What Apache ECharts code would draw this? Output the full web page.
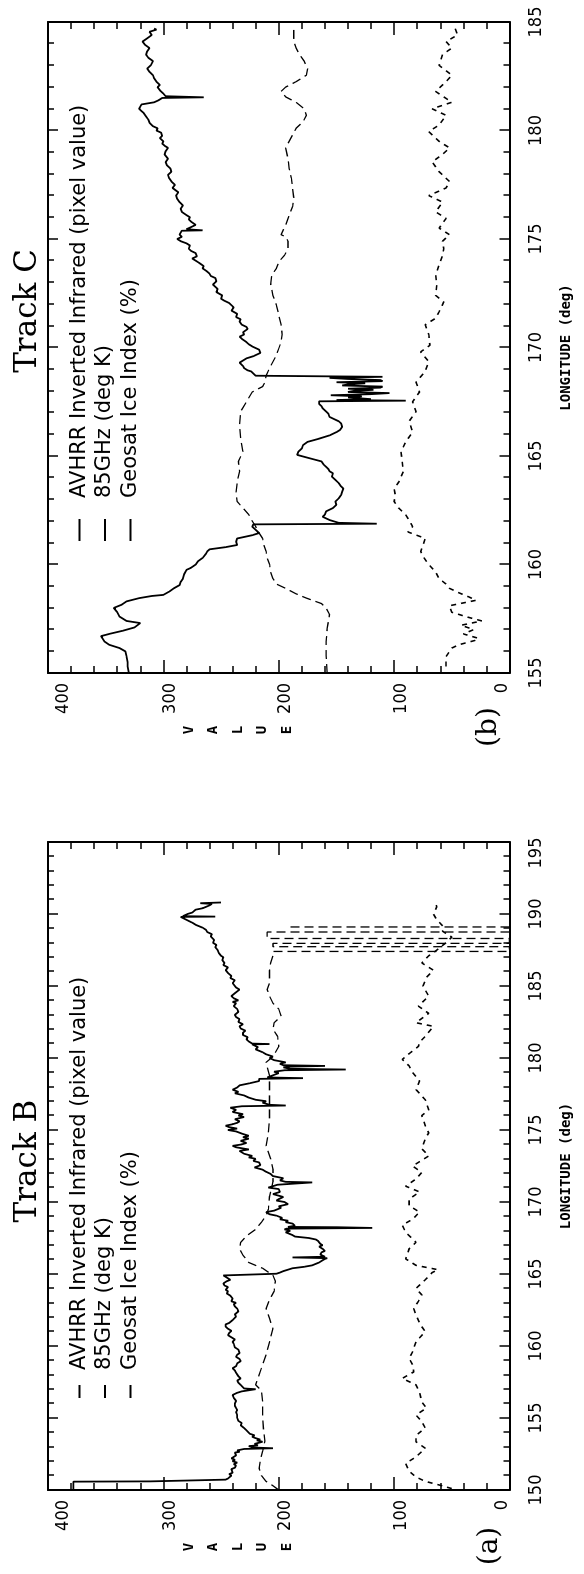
<!DOCTYPE html>
<html>
<head>
<meta charset="utf-8">
<script src="https://cdn.jsdelivr.net/npm/echarts@6/dist/echarts.min.js"></script>
<style>
  html, body { margin: 0; padding: 0; background: #fff; overflow: hidden; width: 584px; height: 1574px; }
  #rot { position: absolute; left: 0; top: 0; width: 1574px; height: 584px;
         transform-origin: 0 0; transform: translateY(1574px) rotate(-90deg); }
  #chart { width: 1574px; height: 584px; }
</style>
</head>
<body>
<div id="rot"><div id="chart"></div></div>
<script>
// ---------------- DATA ----------------
const SERIES_NAMES = ['AVHRR Inverted Infrared (pixel value)', '85GHz (deg K)', 'Geosat Ice Index (%)'];
const PANEL_TITLES = ['Track B', 'Track C'];
const PANEL_TAGS = ['(a)', '(b)'];
const VALUE_AXIS_TITLE = 'VALUE';
const LON_AXIS_TITLE = 'LONGITUDE (deg)';
const VALUE_RANGE = [0, 400];
const VALUE_TICKS = [0, 100, 200, 300, 400];
const TRACK_B_LON_RANGE = [150, 195];
const TRACK_C_LON_RANGE = [155, 185];
const LON_TICK_STEP = 5;

// Track B (panel a): [longitude, value]
const TRACK_B_AVHRR = [
 [150.0,378],[150.58,378],[150.6,311],[150.7,311],[150.72,246],[150.8,244],[150.9,243],[151.0,241],[151.1,243],
 [151.2,240],[151.3,239],[151.45,241],[151.55,238],[151.7,237],[151.8,239],[151.9,236],[152.0,240],[152.1,238],
 [152.2,241],[152.3,240],[152.4,237],[152.5,236],[152.6,238],[152.65,234],[152.75,236],[152.85,230],[152.9,205],
 [152.95,222],[153.05,226],[153.1,218],[153.2,221],[153.35,214],[153.45,219],[153.5,216],[153.6,220],[153.7,223],
 [153.8,221],[153.9,225],[154.0,226],[154.15,228],[154.3,230],[154.4,229],[154.5,233],[154.65,232],[154.8,235],
 [154.9,234],[155.0,236],[155.2,236],[155.4,237],[155.55,236],[155.7,237],[155.85,238],[156.0,238],[156.2,237],
 [156.4,239],[156.6,240],[156.75,236],[156.85,232],[156.95,232],[157.0,220],[157.05,230],[157.15,231],[157.3,233],
 [157.45,235],[157.6,236],[157.75,233],[157.9,235],[158.0,234],[158.15,237],[158.3,238],[158.45,240],[158.6,237],
 [158.8,236],[158.95,233],[159.1,234],[159.25,237],[159.4,236],[159.5,234],[159.6,233],[159.75,235],[159.9,238],
 [160.0,237],[160.15,239],[160.3,240],[160.45,238],[160.6,241],[160.75,244],[160.9,243],[161.05,241],[161.2,244],
 [161.35,246],[161.5,246],[161.6,243],[161.7,244],[161.8,240],[161.9,241],[162.05,237],[162.2,238],[162.4,235],
 [162.6,236],[162.75,238],[162.9,239],[163.0,237],[163.1,241],[163.3,240],[163.5,242],[163.65,245],[163.8,244],
 [163.9,246],[164.0,246],[164.1,244],[164.2,247],[164.35,248],[164.5,245],[164.6,242],[164.7,243],[164.8,246],
 [164.9,248],[165.0,247],[165.02,202],[165.1,199],[165.2,196],[165.3,192],[165.4,188],[165.5,178],[165.6,171],
 [165.7,168],[165.8,165],[165.95,162],[166.05,160],[166.1,158],[166.15,188],[166.2,160],[166.35,164],[166.5,163],
 [166.6,160],[166.75,162],[166.9,165],[167.0,162],[167.1,164],[167.2,163],[167.3,166],[167.4,168],[167.5,174],
 [167.55,180],[167.6,186],[167.7,188],[167.8,191],[167.9,194],[168.0,190],[168.1,195],[168.15,193],[168.2,119],
 [168.25,150],[168.27,192],[168.35,186],[168.5,188],[168.6,194],[168.7,192],[168.8,199],[168.9,197],[169.05,202],
 [169.15,208],[169.3,211],[169.4,204],[169.5,205],[169.6,198],[169.7,200],[169.85,192],[170.0,195],[170.1,202],
 [170.2,200],[170.35,196],[170.55,205],[170.7,199],[170.9,200],[171.0,209],[171.1,208],[171.2,201],[171.33,200],
 [171.36,171],[171.4,194],[171.5,199],[171.65,196],[171.8,205],[171.95,207],[172.1,211],[172.25,214],[172.4,221],
 [172.55,216],[172.75,217],[172.85,222],[173.0,220],[173.1,226],[173.2,223],[173.35,230],[173.55,234],[173.65,226],
 [173.8,237],[173.9,240],[174.0,232],[174.1,228],[174.25,233],[174.4,226],[174.5,231],[174.6,226],[174.75,232],
 [174.9,237],[175.0,244],[175.1,236],[175.2,243],[175.3,246],[175.4,240],[175.5,236],[175.6,234],[175.75,238],
 [175.9,230],[176.0,235],[176.1,231],[176.25,240],[176.4,237],[176.55,242],[176.65,232],[176.7,194],[176.75,208],
 [176.9,214],[177.0,211],[177.1,220],[177.25,226],[177.4,230],[177.55,238],[177.65,235],[177.8,240],[177.95,236],
 [178.1,234],[178.25,225],[178.4,217],[178.55,217],[178.6,179],[178.65,210],[178.8,205],[178.95,200],[179.05,204],
 [179.15,195],[179.2,142],[179.25,190],[179.35,196],[179.4,190],[179.45,160],[179.5,196],[179.6,199],[179.7,194],
 [179.85,204],[180.0,208],[180.1,205],[180.26,211],[180.4,214],[180.6,220],[180.75,218],[180.95,223],[180.97,208],
 [181.0,223],[181.15,226],[181.3,228],[181.45,227],[181.6,231],[181.75,231],[181.9,229],[182.05,233],[182.2,234],
 [182.35,231],[182.5,235],[182.7,234],[182.85,237],[183.0,238],[183.2,235],[183.4,236],[183.6,239],[183.8,237],
 [183.9,240],[184.0,235],[184.15,239],[184.3,241],[184.5,238],[184.75,234],[184.9,237],[185.0,238],[185.2,240],
 [185.4,238],[185.55,242],[185.7,241],[185.9,244],[186.1,246],[186.3,244],[186.45,248],[186.6,247],[186.8,249],
 [187.0,248],[187.1,250],[187.3,252],[187.5,253],[187.7,255],[187.85,254],[188.0,257],[188.2,256],[188.45,259],
 [188.6,258],[188.75,262],[188.9,263],[189.05,266],[189.25,272],[189.4,275],[189.6,280],[189.7,279],[189.8,285],
 [189.82,255],[189.85,283],[190.0,279],[190.1,275],[190.2,276],[190.3,272],[190.4,266],[190.5,263],[190.6,260],
 [190.7,258],[190.75,268],[190.8,250]
];
const TRACK_B_85GHZ = [
 [150.0,200],[150.3,205],[150.6,211],[151.0,215],[151.5,217],[152.1,216],[152.7,214],[153.4,212],[154.0,213],
 [155.0,214],[156.1,214],[156.9,215],[157.3,220],[158.0,217],[158.7,214],[159.4,211],[160.3,208],[161.2,205],
 [161.9,208],[162.6,211],[163.2,208],[163.8,204],[164.5,203],[164.9,205],[165.4,214],[165.8,226],[166.3,231],
 [166.75,234],[167.2,233],[167.65,228],[168.1,220],[168.6,215],[169.05,211],[169.5,209],[170.4,208],[171.4,205],
 [172.3,205],[173.0,207],[173.9,211],[174.8,209],[175.75,208],[176.7,208],[177.8,208],[178.75,208],[179.7,211],
 [180.1,205],[180.8,200],[181.5,201],[182.0,205],[182.45,204],[182.9,198],[183.4,200],[183.8,205],[184.3,208],
 [184.75,210],[185.2,208],[186.1,208],[186.6,207],[187.1,205],[187.4,205],[187.4,0],[187.73,0],[187.73,205],
 [187.96,205],[187.96,0],[188.3,0],[188.3,210],[188.75,210],[188.75,0],[189.1,0],[189.1,192]
];
const TRACK_B_GEOSAT = [
 [150.1,50],[150.35,61],[150.6,73],[150.9,81],[151.3,87],[151.85,90],[152.3,81],[152.9,73],[153.35,81],[153.8,81],
 [154.3,73],[154.75,76],[155.2,81],[155.7,72],[156.1,76],[156.8,78],[157.3,81],[157.75,93],[158.2,83],[158.7,84],
 [159.15,87],[159.6,84],[160.3,81],[161.0,73],[161.45,77],[162.15,81],[162.6,83],[163.1,79],[163.55,76],[164.0,81],
 [164.6,73],[165.1,67],[165.3,62],[165.6,81],[166.05,90],[166.75,87],[167.2,81],[167.9,90],[168.4,93],[168.8,84],
 [169.3,78],[169.75,87],[170.2,87],[170.7,78],[171.1,90],[171.6,81],[172.05,76],[172.5,84],[173.2,70],[173.7,76],
 [174.4,73],[174.8,70],[175.3,73],[176.0,76],[176.4,70],[177.1,73],[177.8,81],[178.4,78],[179.0,84],[179.45,87],
 [179.9,93],[180.3,87],[180.8,79],[181.1,78],[181.5,73],[182.2,66],[182.45,81],[183.1,70],[183.6,79],[184.3,70],
 [185.0,75],[185.6,72],[186.1,66],[186.6,76],[187.1,70],[187.3,66],[187.7,60],[188.0,55],[188.4,50],[188.8,58],
 [189.1,57],[189.6,63],[190.0,66],[190.5,63],[190.8,64]
];

// Track C (panel b): [longitude, value]
const TRACK_C_AVHRR = [
 [155.0,330],[155.3,331],[155.5,331],[155.8,332],[156.0,333],[156.15,338],[156.3,347],[156.45,351],[156.7,354],
 [156.8,347],[156.95,335],[157.1,325],[157.3,320],[157.4,332],[157.6,338],[157.8,340],[158.0,343],[158.15,336],
 [158.3,332],[158.45,321],[158.55,310],[158.6,300],[158.75,295],[158.9,291],[159.05,286],[159.2,285],[159.35,283],
 [159.55,282],[159.75,280],[159.85,276],[160.0,272],[160.15,270],[160.3,266],[160.5,263],[160.6,262],[160.7,260],
 [160.8,246],[160.9,236],[161.05,237],[161.2,236],[161.35,223],[161.45,217],[161.6,220],[161.75,223],[161.85,222],
 [161.88,115],[161.92,148],[162.05,156],[162.2,162],[162.3,160],[162.45,159],[162.6,153],[162.75,150],[162.9,151],
 [163.05,148],[163.2,146],[163.35,145],[163.5,144],[163.6,146],[163.75,148],[163.9,151],[164.05,154],[164.2,153],
 [164.3,156],[164.4,157],[164.5,159],[164.6,161],[164.75,163],[164.85,170],[164.95,177],[165.05,184],[165.2,183],
 [165.35,180],[165.5,179],[165.65,175],[165.8,165],[165.95,156],[166.1,150],[166.2,147],[166.35,145],[166.5,146],
 [166.6,148],[166.7,152],[166.8,156],[166.95,157],[167.05,159],[167.2,162],[167.3,163],[167.4,165],[167.52,165],
 [167.55,90],[167.58,150],[167.62,120],[167.7,140],[167.75,128],[167.8,155],[167.85,120],[167.9,104],[167.95,140],
 [168.0,135],[168.05,118],[168.1,140],[168.15,112],[168.2,110],[168.25,145],[168.3,140],[168.35,125],[168.4,150],
 [168.45,110],[168.5,112],[168.55,140],[168.6,156],[168.65,110],[168.7,110],[168.7,220],[168.8,222],[168.9,224],
 [168.95,227],[169.05,230],[169.15,231],[169.3,234],[169.4,231],[169.5,228],[169.6,222],[169.75,216],[169.9,217],
 [170.05,223],[170.15,226],[170.25,228],[170.4,232],[170.5,234],[170.6,230],[170.7,231],[170.85,227],[170.95,228],
 [171.05,232],[171.2,234],[171.3,233],[171.4,237],[171.55,236],[171.7,241],[171.85,239],[172.05,243],[172.15,247],
 [172.25,250],[172.4,249],[172.55,254],[172.7,253],[172.9,257],[173.05,254],[173.2,255],[173.3,259],[173.4,260],
 [173.5,262],[173.65,266],[173.75,265],[173.9,269],[174.0,272],[174.1,275],[174.2,271],[174.35,272],[174.45,276],
 [174.55,278],[174.7,277],[174.8,280],[174.9,285],[175.0,288],[175.1,284],[175.2,286],[175.38,284],[175.4,266],
 [175.45,280],[175.55,276],[175.65,272],[175.8,276],[175.9,278],[176.0,277],[176.1,280],[176.25,284],[176.4,285],
 [176.55,283],[176.7,286],[176.85,288],[177.0,289],[177.15,287],[177.35,292],[177.5,290],[177.65,293],[177.8,295],
 [177.95,296],[178.1,293],[178.25,294],[178.4,297],[178.55,298],[178.7,296],[178.9,299],[179.05,298],[179.2,296],
 [179.3,299],[179.4,301],[179.5,300],[179.65,303],[179.75,301],[179.9,302],[180.0,306],[180.1,305],[180.2,309],
 [180.35,312],[180.5,313],[180.65,315],[180.8,317],[180.9,319],[181.0,321],[181.1,320],[181.2,319],[181.3,308],
 [181.4,304],[181.5,301],[181.53,265],[181.58,298],[181.7,300],[181.85,303],[182.0,305],[182.1,303],[182.25,306],
 [182.4,308],[182.55,309],[182.7,312],[182.85,314],[183.0,311],[183.2,309],[183.35,313],[183.5,315],[183.65,314],
 [183.8,312],[183.95,316],[184.1,318],[184.25,314],[184.4,310],[184.55,312],[184.65,306],[184.7,308]
];
const TRACK_C_85GHZ = [
 [155.0,158],[155.8,159],[156.45,159],[157.05,158],[157.7,156],[158.0,159],[158.2,163],[158.45,176],[158.65,185],
 [158.9,194],[159.1,202],[159.35,205],[159.65,207],[160.0,208],[160.3,210],[160.6,211],[160.9,213],[161.2,214],
 [161.45,217],[161.75,220],[162.0,223],[162.3,226],[162.6,231],[162.9,236],[163.35,237],[163.8,236],[164.3,234],
 [164.75,235],[165.2,231],[165.8,233],[166.4,234],[167.05,233],[167.5,228],[167.95,223],[168.2,214],[168.4,212],
 [168.7,211],[169.05,208],[169.35,205],[169.65,202],[169.95,200],[170.25,198],[170.6,197],[171.05,198],[171.5,200],
 [171.95,202],[172.4,205],[172.9,207],[173.35,206],[173.65,202],[173.95,200],[174.25,195],[174.55,192],[174.9,192],
 [175.1,194],[175.2,198],[175.65,194],[176.1,191],[176.5,188],[176.9,187],[177.35,188],[177.8,189],[178.25,191],
 [178.7,192],[179.2,194],[179.5,191],[179.8,188],[180.1,185],[180.4,179],[180.7,176],[181.0,178],[181.3,185],
 [181.55,194],[181.8,198],[182.0,194],[182.25,185],[182.55,176],[182.85,175],[183.2,178],[183.5,182],[183.8,185],
 [184.1,187],[184.4,187],[184.7,187]
];
const TRACK_C_GEOSAT = [
 [155.3,55],[155.75,55],[156.15,50],[156.3,44],[156.5,30],[156.6,27],[156.8,40],[157.0,31],[157.2,42],[157.4,24],
 [157.6,38],[157.8,50],[158.1,52],[158.35,29],[158.5,35],[158.7,44],[158.9,52],[159.1,55],[159.35,61],[159.65,64],
 [160.0,70],[160.3,74],[160.6,77],[160.9,75],[161.2,73],[161.5,88],[161.75,84],[161.95,86],[162.3,90],[162.6,96],
 [162.9,100],[163.2,99],[163.5,100],[163.8,96],[164.3,92],[164.75,93],[165.2,94],[165.65,90],[166.1,84],[166.6,87],
 [167.05,81],[167.5,84],[167.95,78],[168.4,81],[168.9,73],[169.35,70],[169.8,77],[170.1,69],[170.6,70],[171.05,73],
 [171.35,64],[171.65,61],[172.1,57],[172.4,64],[172.9,63],[173.35,64],[173.8,61],[174.25,58],[174.55,57],[174.9,58],
 [175.2,52],[175.5,61],[175.95,55],[176.25,64],[176.7,58],[177.0,70],[177.35,55],[177.65,52],[178.1,61],[178.55,67],
 [178.9,58],[179.2,52],[179.5,61],[179.95,70],[180.25,61],[180.7,55],[181.0,67],[181.3,50],[181.8,64],[182.25,55],
 [182.55,50],[183.0,61],[183.5,58],[183.8,50],[184.1,55],[184.4,45],[184.7,47]
];

// ---------------- CHART ----------------
const NARROW = "'Liberation Sans Narrow', 'DejaVu Sans Condensed', 'Liberation Sans', sans-serif";
const BLACK = '#000';
const GRIDS = [
  { left: 84, top: 48, width: 648, height: 461.5 },
  { left: 901, top: 48, width: 651, height: 461.5 }
];

function lonAxis(gi, range, pos, labels, shiftMax) {
  return {
    type: 'value', gridIndex: gi, position: pos, min: range[0], max: range[1], interval: LON_TICK_STEP,
    axisLine: { show: true, onZero: false, lineStyle: { color: BLACK, width: 2 } },
    axisTick: { show: true, inside: true, length: 10, lineStyle: { color: BLACK, width: 1.5 } },
    minorTick: { show: true, splitNumber: 5, length: 6, lineStyle: { color: BLACK, width: 1.5 } },
    splitLine: { show: false }, minorSplitLine: { show: false },
    axisLabel: labels ? {
      show: true, margin: 18, color: BLACK, fontFamily: NARROW, fontSize: 18,
      formatter: v => (shiftMax && v === range[1]) ? '{r|' + v + '}' : '{n|' + v + '}',
      rich: { n: { fontFamily: NARROW, fontSize: 18, color: BLACK },
              r: { fontFamily: NARROW, fontSize: 18, color: BLACK, padding: [0, 22, 0, 0] } }
    } : { show: false },
    name: labels ? LON_AXIS_TITLE : '', nameLocation: 'middle', nameGap: 50,
    nameTextStyle: { fontFamily: "'DejaVu Sans Mono', monospace", fontWeight: 'bold', fontSize: 14, color: BLACK }
  };
}
function valAxis(gi, pos, labels) {
  return {
    type: 'value', gridIndex: gi, position: pos, min: VALUE_RANGE[0], max: VALUE_RANGE[1], interval: 100,
    axisLine: { show: true, onZero: false, lineStyle: { color: BLACK, width: 2 } },
    axisTick: { show: true, inside: true, length: 13, lineStyle: { color: BLACK, width: 1.5 } },
    minorTick: { show: true, splitNumber: 5, length: 7, lineStyle: { color: BLACK, width: 1.5 } },
    splitLine: { show: false }, minorSplitLine: { show: false },
    axisLabel: labels ? {
      show: true, margin: 10, color: BLACK, fontFamily: NARROW, fontSize: 18,
      formatter: v => v === VALUE_TICKS[0] ? '{z|' + v + '}' : (v === VALUE_TICKS[VALUE_TICKS.length - 1] ? '{t|' + v + '}' : '{n|' + v + '}'),
      rich: { n: { fontFamily: NARROW, fontSize: 18, color: BLACK, padding: [14, 0, 0, 0] },
              z: { fontFamily: NARROW, fontSize: 18, color: BLACK, padding: [0, 0, 14, 0] },
              t: { fontFamily: NARROW, fontSize: 18, color: BLACK, padding: [30, 0, 0, 0] } }
    } : { show: false }
  };
}
function mkSeries(name, data, xi, yi, kind) {
  const ls = kind === 0 ? { color: BLACK, width: 1.8, type: 'solid' }
           : kind === 1 ? { color: BLACK, width: 1.3, type: [9, 5] }
           : { color: BLACK, width: 1.6, type: [5, 5] };
  return { name, type: 'line', data, xAxisIndex: xi, yAxisIndex: yi, showSymbol: false, symbol: 'none',
           lineStyle: ls, itemStyle: { color: BLACK }, silent: true, animation: false, z: 3 - kind };
}
function mkLegend(left, iconW, gapPad) {
  return {
    orient: 'vertical', left, top: 64, icon: 'rect', itemWidth: iconW, itemHeight: 2, itemGap: 4.5,
    selectedMode: false, data: SERIES_NAMES,
    textStyle: { fontFamily: "'DejaVu Sans', sans-serif", fontSize: 21, lineHeight: 21, color: BLACK, padding: [0, 0, 0, gapPad] }
  };
}
function txt(x, y, text, font, lh) {
  return { type: 'text', x, y, silent: true,
           style: { text, font, fill: BLACK, align: 'center', verticalAlign: 'middle', lineHeight: lh } };
}
const VALUE_STACKED = VALUE_AXIS_TITLE.split('').join('\n');
const MONO_B = "bold 14px 'DejaVu Sans Mono', monospace";

const chart = echarts.init(document.getElementById('chart'), null, { renderer: 'canvas', width: 1574, height: 584 });
chart.setOption({
  backgroundColor: '#fff',
  animation: false,
  grid: GRIDS,
  xAxis: [
    lonAxis(0, TRACK_B_LON_RANGE, 'bottom', true, true),
    lonAxis(0, TRACK_B_LON_RANGE, 'top', false, false),
    lonAxis(1, TRACK_C_LON_RANGE, 'bottom', true, false),
    lonAxis(1, TRACK_C_LON_RANGE, 'top', false, false)
  ],
  yAxis: [
    valAxis(0, 'left', true), valAxis(0, 'right', false),
    valAxis(1, 'left', true), valAxis(1, 'right', false)
  ],
  legend: [mkLegend(171, 13, 10), mkLegend(1028, 22, 16)],
  graphic: [
    txt(413, 28, PANEL_TITLES[0], "31px 'DejaVu Serif', serif", 31),
    txt(1263, 28, PANEL_TITLES[1], "31px 'DejaVu Serif', serif", 31),
    txt(28, 490, PANEL_TAGS[0], "28px 'DejaVu Serif', serif", 28),
    txt(847, 489, PANEL_TAGS[1], "28px 'DejaVu Serif', serif", 28),
    txt(27, 238, VALUE_STACKED, MONO_B, 24.5),
    txt(844, 238, VALUE_STACKED, MONO_B, 24.5)
  ],
  series: [
    mkSeries(SERIES_NAMES[0], TRACK_B_AVHRR, 0, 0, 0),
    mkSeries(SERIES_NAMES[1], TRACK_B_85GHZ, 0, 0, 1),
    mkSeries(SERIES_NAMES[2], TRACK_B_GEOSAT, 0, 0, 2),
    mkSeries(SERIES_NAMES[0], TRACK_C_AVHRR, 2, 2, 0),
    mkSeries(SERIES_NAMES[1], TRACK_C_85GHZ, 2, 2, 1),
    mkSeries(SERIES_NAMES[2], TRACK_C_GEOSAT, 2, 2, 2)
  ]
});
</script>
</body>
</html>
